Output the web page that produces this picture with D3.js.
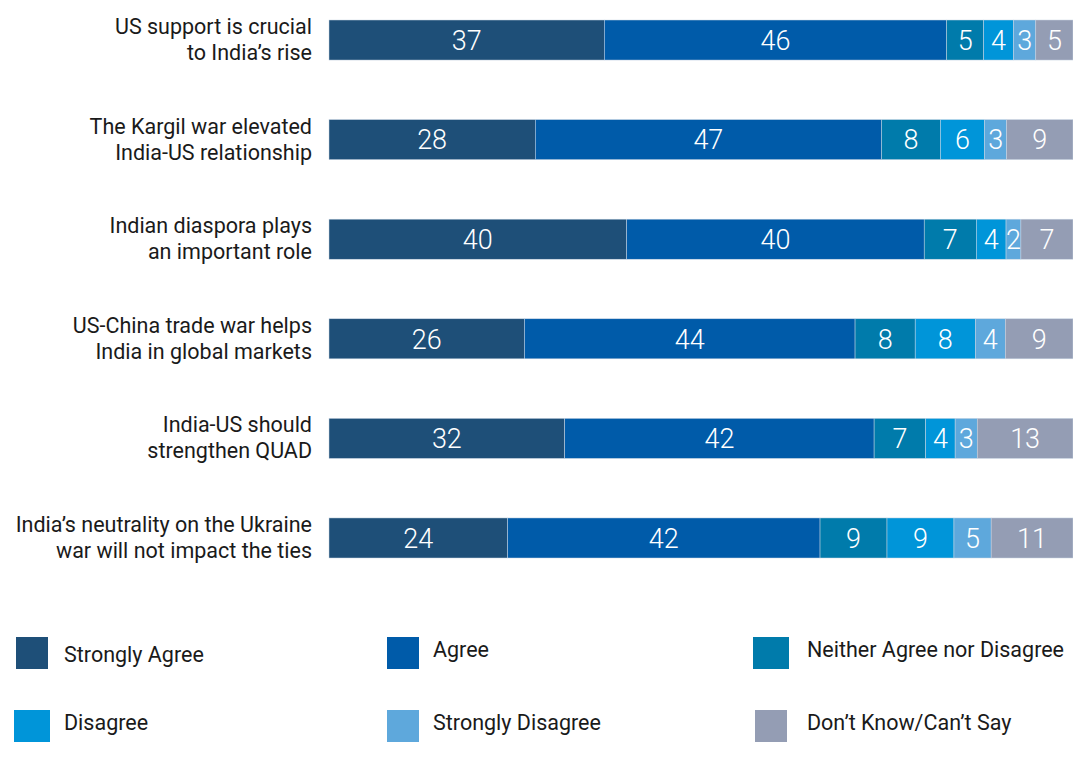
<!DOCTYPE html>
<html>
<head>
<meta charset="utf-8">
<script src="https://cdn.jsdelivr.net/npm/d3@7"></script>
<style>
  html, body { margin: 0; padding: 0; background: #fff; }
  svg { display: block; font-family: Roboto, "Noto Sans", sans-serif; }
</style>
</head>
<body>
<svg id="chart" width="1073" height="760"></svg>
<script>
// Survey statements (two-line labels)
const statements = [
  ["US support is crucial", "to India\u2019s rise"],
  ["The Kargil war elevated", "India-US relationship"],
  ["Indian diaspora plays", "an important role"],
  ["US-China trade war helps", "India in global markets"],
  ["India-US should", "strengthen QUAD"],
  ["India\u2019s neutrality on the Ukraine", "war will not impact the ties"]
];

// Response categories
const responses = [
  "Strongly Agree", "Agree", "Neither Agree nor Disagree",
  "Disagree", "Strongly Disagree", "Don\u2019t Know/Can\u2019t Say"
];
const colors = ["#1e4f78", "#005ba9", "#007bab", "#0095d9", "#5ea8dc", "#949db4"];

// Share of respondents (%) per response, one array per statement
const stronglyAgree = [37, 28, 40, 26, 32, 24];
const agree         = [46, 47, 40, 44, 42, 42];
const neither       = [5, 8, 7, 8, 7, 9];
const disagree      = [4, 6, 4, 8, 4, 9];
const stronglyDis   = [3, 3, 2, 4, 3, 5];
const dontKnow      = [5, 9, 7, 9, 13, 11];

const series = [stronglyAgree, agree, neither, disagree, stronglyDis, dontKnow];

const rows = statements.map((s, i) => {
  const obj = { idx: i };
  responses.forEach((r, k) => obj[r] = series[k][i]);
  obj.total = d3.sum(series, a => a[i]);
  return obj;
});

const svg = d3.select("#chart");
const x0 = 329, x1 = 1073;

const y = d3.scaleBand()
  .domain(d3.range(statements.length))
  .range([20, 558])
  .paddingInner(0.598)
  .paddingOuter(0);

// each bar spans the full width: values are shares of the row's total
const stack = d3.stack().keys(responses)(rows);

const colorScale = d3.scaleOrdinal().domain(responses).range(colors);

const rowX = d => d3.scaleLinear().domain([0, d.data.total]).range([x0, x1]);

const layers = svg.append("g").selectAll("g")
  .data(stack)
  .join("g")
  .attr("fill", s => colorScale(s.key));

layers.selectAll("rect")
  .data(s => s)
  .join("rect")
  .attr("x", d => rowX(d)(d[0]))
  .attr("width", d => rowX(d)(d[1]) - rowX(d)(d[0]))
  .attr("y", d => y(d.data.idx))
  .attr("height", y.bandwidth())
  .attr("stroke", "#c9d6e4")
  .attr("stroke-width", 0.5);

layers.selectAll("text")
  .data(s => s)
  .join("text")
  .attr("x", d => (rowX(d)(d[0]) + rowX(d)(d[1])) / 2)
  .attr("y", d => y(d.data.idx) + y.bandwidth() / 2)
  .attr("dy", "0.36em")
  .attr("text-anchor", "middle")
  .attr("fill", "#fff")
  .attr("font-size", 27)
  .attr("font-weight", 300)
  .text(d => d[1] - d[0]);

// statement labels
const labels = svg.append("g").selectAll("text")
  .data(statements)
  .join("text")
  .attr("text-anchor", "end")
  .attr("font-size", 21.5)
  .attr("fill", "#1a1a1a");

labels.selectAll("tspan")
  .data((d, i) => d.map((line, j) => ({ line, j, i })))
  .join("tspan")
  .attr("x", 312)
  .attr("y", d => y(d.i) + y.bandwidth() / 2 - 6 + d.j * 26)
  .text(d => d.line);

// legend
const legendPos = [
  { x: 16,  y: 637, w: 32, tx: 64,  ty: 662 },
  { x: 387, y: 637, w: 32, tx: 433, ty: 657 },
  { x: 753, y: 637, w: 36, tx: 807, ty: 657 },
  { x: 14,  y: 710, w: 36, tx: 64,  ty: 730 },
  { x: 387, y: 710, w: 32, tx: 433, ty: 730 },
  { x: 755, y: 710, w: 32, tx: 807, ty: 730 }
];

const legend = svg.append("g").selectAll("g")
  .data(responses)
  .join("g");

legend.append("rect")
  .attr("x", (d, i) => legendPos[i].x)
  .attr("y", (d, i) => legendPos[i].y)
  .attr("width", (d, i) => legendPos[i].w)
  .attr("height", 32)
  .attr("fill", d => colorScale(d));

legend.append("text")
  .attr("x", (d, i) => legendPos[i].tx)
  .attr("y", (d, i) => legendPos[i].ty)
  .attr("font-size", 21.5)
  .attr("fill", "#1a1a1a")
  .text(d => d);
</script>
</body>
</html>
